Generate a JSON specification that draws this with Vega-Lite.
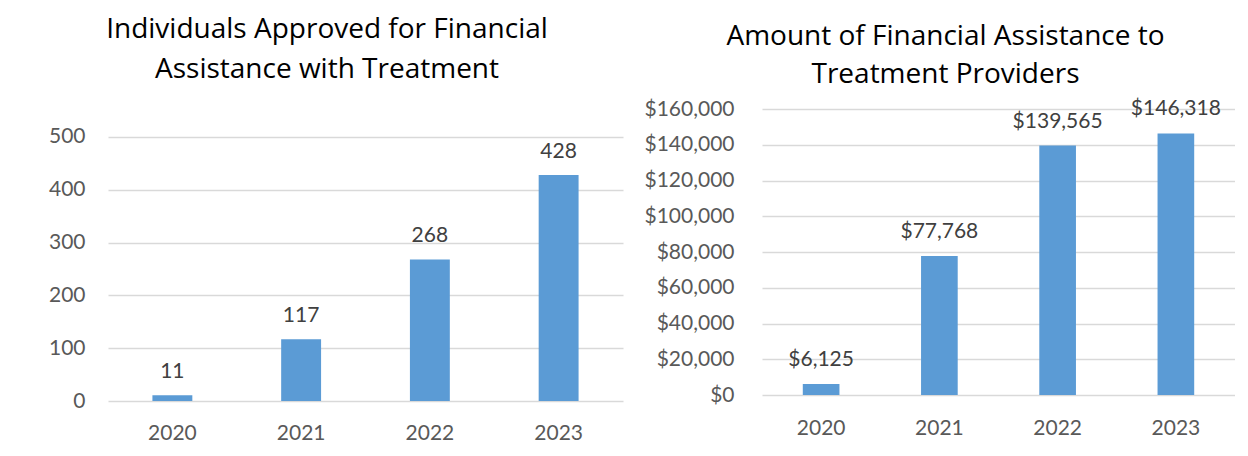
{
  "$schema": "https://vega.github.io/schema/vega-lite/v6.json",
  "background": "white",
  "padding": {"left": 48, "top": 15, "right": 0, "bottom": 0},
  "spacing": 20,
  "config": {
    "font": "Lato",
    "view": {"stroke": null},
    "axis": {
      "labelFont": "Lato",
      "labelFontSize": 21,
      "labelColor": "#595959",
      "domain": false,
      "ticks": false,
      "title": null,
      "gridColor": "#d9d9d9",
      "gridWidth": 1.3
    },
    "title": {
      "font": "Open Sans",
      "fontSize": 28,
      "fontWeight": "normal",
      "color": "#000000",
      "anchor": "middle",
      "frame": "group",
      "baseline": "alphabetic",
      "lineHeight": 40
    }
  },
  "hconcat": [
    {
      "width": 515,
      "height": 292,
      "title": {
        "text": ["Individuals Approved for Financial", "Assistance with Treatment"],
        "offset": 25.5,
        "dx": -38.5
      },
      "data": {
        "values": [
          {"year": "2020", "count": 11},
          {"year": "2021", "count": 117},
          {"year": "2022", "count": 268},
          {"year": "2023", "count": 428}
        ]
      },
      "encoding": {
        "x": {
          "field": "year",
          "type": "ordinal",
          "scale": {"paddingInner": 0.69, "paddingOuter": 0.345},
          "axis": {"labelAngle": 0, "labelPadding": 21, "grid": false}
        },
        "y": {
          "field": "count",
          "type": "quantitative",
          "scale": {"domain": [0, 553], "nice": false},
          "axis": {"values": [0, 100, 200, 300, 400, 500], "labelPadding": 23}
        }
      },
      "layer": [
        {"mark": {"type": "bar", "color": "#5b9bd5"}},
        {
          "mark": {"type": "text", "dy": -17, "baseline": "alphabetic", "fontSize": 21, "color": "#404040", "font": "Lato"},
          "encoding": {"text": {"field": "count", "type": "quantitative"}}
        }
      ]
    },
    {
      "width": 473,
      "height": 286,
      "title": {
        "text": ["Amount of Financial Assistance to", "Treatment Providers"],
        "offset": 9.5,
        "dx": -53,
        "lineHeight": 38
      },
      "data": {
        "values": [
          {"year": "2020", "amount": 6125},
          {"year": "2021", "amount": 77768},
          {"year": "2022", "amount": 139565},
          {"year": "2023", "amount": 146318}
        ]
      },
      "encoding": {
        "x": {
          "field": "year",
          "type": "ordinal",
          "scale": {"paddingInner": 0.69, "paddingOuter": 0.345},
          "axis": {"labelAngle": 0, "labelPadding": 22, "grid": false}
        },
        "y": {
          "field": "amount",
          "type": "quantitative",
          "scale": {"domain": [0, 160000]},
          "axis": {"values": [0, 20000, 40000, 60000, 80000, 100000, 120000, 140000, 160000], "format": "$,.0f", "labelPadding": 28}
        }
      },
      "layer": [
        {"mark": {"type": "bar", "color": "#5b9bd5"}},
        {
          "mark": {"type": "text", "dy": -18, "baseline": "alphabetic", "fontSize": 21, "color": "#404040", "font": "Lato"},
          "encoding": {"text": {"field": "amount", "type": "quantitative", "format": "$,.0f"}}
        }
      ]
    }
  ]
}
